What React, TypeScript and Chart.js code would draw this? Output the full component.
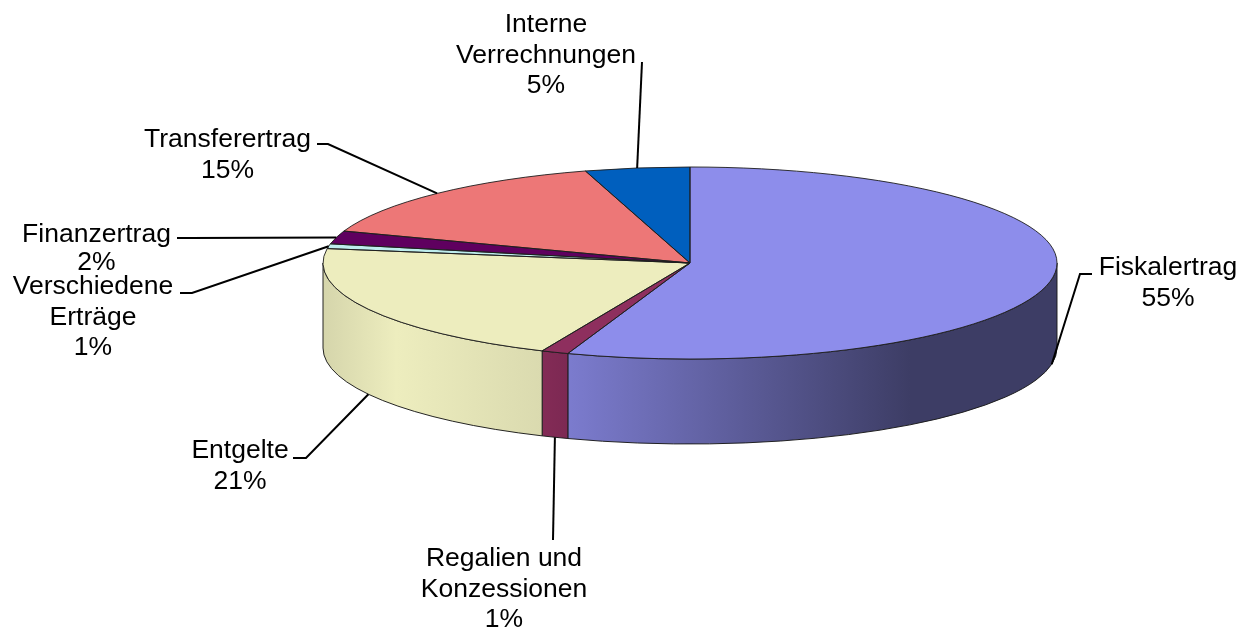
import { useEffect, useRef } from "react";
import { Chart, registerables } from "chart.js";

Chart.register(...registerables);

// ---- data ----
const categories = [
  "Fiskalertrag",
  "Regalien und Konzessionen",
  "Entgelte",
  "Verschiedene Erträge",
  "Finanzertrag",
  "Transferertrag",
  "Interne Verrechnungen",
];
const shares = [55.4, 1.2, 20.8, 0.8, 2.2, 15.0, 4.6];
const labelLines = [
  ["Fiskalertrag"],
  ["Regalien und", "Konzessionen"],
  ["Entgelte"],
  ["Verschiedene", "Erträge"],
  ["Finanzertrag"],
  ["Transferertrag"],
  ["Interne", "Verrechnungen"],
];
const topColors = ["#8D8DEB", "#8E2F5E", "#EDEDBE", "#BEEDED", "#5F005F", "#ED7777", "#005FBE"];

// ---- layout ----
const W = 1254;
const H = 632;
const CX = 690;
const CY = 263;
const RX = 367;
const RY = 96;
const DEPTH = 85;
const FONT = "26.5px 'Liberation Sans', Arial, sans-serif";
const LINE_H = 30.5;
// label centre x, first baseline y, line height
const labelPos: [number, number, number][] = [
  [1168, 275, LINE_H],
  [504, 566, LINE_H],
  [240, 458, LINE_H],
  [93, 294, LINE_H],
  [96.5, 242, 28],
  [227.5, 147, LINE_H],
  [546, 32, LINE_H],
];
// leader start point (near text) and optional elbow
const leaderStart: [number, number][] = [
  [1092, 274],
  [553, 540],
  [293, 458],
  [180, 293],
  [177, 238],
  [317, 144],
  [642, 62],
];
const leaderElbow: ([number, number] | null)[] = [
  [1080, 274],
  null,
  [306, 458],
  [192, 293],
  [190, 238],
  [328, 144],
  null,
];
const wallStops: [number, number][] = [
  [0, 0.9],
  [0.1, 1.0],
  [0.3, 0.92],
  [0.33, 0.88],
  [0.8, 0.43],
  [1, 0.43],
];

function shade(hex: string, f: number): string {
  const n = parseInt(hex.slice(1), 16);
  const r = Math.min(255, Math.round(((n >> 16) & 255) * f));
  const g = Math.min(255, Math.round(((n >> 8) & 255) * f));
  const b = Math.min(255, Math.round((n & 255) * f));
  return `rgb(${r},${g},${b})`;
}

const pie3d = {
  id: "pie3d",
  beforeDatasetsDraw(chart: any) {
    const ctx: CanvasRenderingContext2D = chart.ctx;
    const arcs = chart.getDatasetMeta(0).data as any[];
    // side walls (front half only)
    arcs.forEach((arc, i) => {
      const s = Math.max(arc.startAngle, 0);
      const e = Math.min(arc.endAngle, Math.PI);
      if (e <= s) return;
      const grad = ctx.createLinearGradient(CX - RX, 0, CX + RX, 0);
      wallStops.forEach(([u, f]) => grad.addColorStop(u, shade(topColors[i], f)));
      ctx.save();
      ctx.beginPath();
      ctx.ellipse(CX, CY, RX, RY, 0, s, e, false);
      ctx.lineTo(CX + RX * Math.cos(e), CY + RY * Math.sin(e) + DEPTH);
      ctx.ellipse(CX, CY + DEPTH, RX, RY, 0, e, s, true);
      ctx.closePath();
      ctx.fillStyle = grad;
      ctx.fill();
      ctx.strokeStyle = "rgba(25,25,25,0.95)";
      ctx.lineWidth = 1;
      ctx.stroke();
      ctx.restore();
    });
    // squash the library's pie into the top ellipse
    const a0 = arcs[0];
    ctx.save();
    ctx.translate(CX, CY);
    ctx.scale(RX / a0.outerRadius, RY / a0.outerRadius);
    ctx.translate(-a0.x, -a0.y);
  },
  afterDatasetsDraw(chart: any) {
    const ctx: CanvasRenderingContext2D = chart.ctx;
    ctx.restore();
    const arcs = chart.getDatasetMeta(0).data as any[];
    ctx.save();
    ctx.strokeStyle = "rgba(30,30,30,0.9)";
    ctx.lineWidth = 1;
    arcs.forEach((arc) => {
      ctx.beginPath();
      ctx.moveTo(CX, CY);
      ctx.lineTo(CX + RX * Math.cos(arc.startAngle), CY + RY * Math.sin(arc.startAngle));
      ctx.ellipse(CX, CY, RX, RY, 0, arc.startAngle, arc.endAngle, false);
      ctx.closePath();
      ctx.stroke();
    });
    ctx.restore();
  },
  afterDraw(chart: any) {
    const ctx: CanvasRenderingContext2D = chart.ctx;
    const arcs = chart.getDatasetMeta(0).data as any[];
    const total = shares.reduce((a, b) => a + b, 0);
    ctx.save();
    // leader lines
    ctx.strokeStyle = "#000";
    ctx.lineWidth = 2;
    arcs.forEach((arc, i) => {
      const mid = (arc.startAngle + arc.endAngle) / 2;
      const ax = CX + RX * Math.cos(mid);
      let ay = CY + RY * Math.sin(mid);
      if (Math.sin(mid) > 0) ay += DEPTH;
      const [sx, sy] = leaderStart[i];
      ctx.beginPath();
      ctx.moveTo(sx, sy);
      const el = leaderElbow[i];
      if (el) ctx.lineTo(el[0], el[1]);
      ctx.lineTo(ax, ay);
      ctx.stroke();
    });
    // texts
    ctx.fillStyle = "#000";
    ctx.font = FONT;
    ctx.textAlign = "center";
    ctx.textBaseline = "alphabetic";
    categories.forEach((_, i) => {
      const lines = [...labelLines[i], Math.round((shares[i] / total) * 100) + "%"];
      const [lx, ly, lh] = labelPos[i];
      lines.forEach((t, k) => ctx.fillText(t, lx, ly + k * lh));
    });
    ctx.restore();
  },
};

export default function App() {
  const ref = useRef<HTMLCanvasElement | null>(null);
  useEffect(() => {
    if (!ref.current) return;
    const chart = new Chart(ref.current, {
      type: "pie",
      data: {
        labels: categories,
        datasets: [
          {
            data: shares,
            backgroundColor: topColors,
            borderWidth: 0,
            clip: false,
          } as any,
        ],
      },
      options: {
        responsive: false,
        animation: false,
        events: [],
        layout: { padding: 0 },
        plugins: {
          legend: { display: false },
          tooltip: { enabled: false },
        },
      },
      plugins: [pie3d],
    });
    return () => chart.destroy();
  }, []);
  return (
    <div style={{ position: "absolute", left: 0, top: 0, width: W, height: H, background: "#fff" }}>
      <canvas ref={ref} width={W} height={H} style={{ display: "block", width: W, height: H }} />
    </div>
  );
}
